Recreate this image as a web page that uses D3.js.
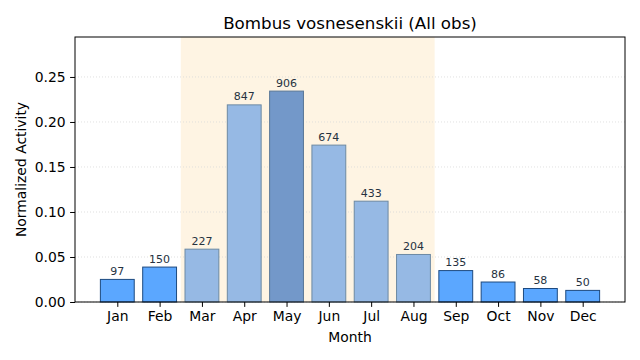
<!DOCTYPE html>
<html><head><meta charset="utf-8">
<script src="https://cdn.jsdelivr.net/npm/d3@7"></script>
<style>body{margin:0;background:#fff}svg{display:block;font-family:"DejaVu Sans",sans-serif}</style>
</head><body><svg id="c" width="640" height="360"></svg>
<script>
const months = ["Jan","Feb","Mar","Apr","May","Jun","Jul","Aug","Sep","Oct","Nov","Dec"];
const counts = [97,150,227,847,906,674,433,204,135,86,58,50];
const activity = [0.0251,0.0388,0.0587,0.2190,0.2343,0.1743,0.1120,0.0528,0.0349,0.0222,0.0150,0.0129];
const seasonMonths = ["Mar","Apr","May","Jun","Jul","Aug"];
const peakMonth = "May";
const yTicks = [0,0.05,0.10,0.15,0.20,0.25];

const svg = d3.select("#c");
const m = {l:75, r:625, t:37, b:302};
const x = d3.scaleLinear().domain([0,13]).range([m.l, m.r]);
const y = d3.scaleLinear().domain([0,0.2944]).range([m.b, m.t]);
const bw = x(0.8) - x(0);

// season span
const si = months.indexOf(seasonMonths[0]) + 1, ei = months.indexOf(seasonMonths[seasonMonths.length-1]) + 1;
svg.append("rect").attr("x", x(si-0.5)).attr("y", m.t).attr("width", x(ei+0.5)-x(si-0.5)).attr("height", m.b-m.t).attr("fill", "#fef4e3");

// grid
svg.append("g").selectAll("line").data(yTicks).join("line")
  .attr("x1", m.l).attr("x2", m.r).attr("y1", d=>y(d)).attr("y2", d=>y(d))
  .attr("stroke", "#d8d8d8").attr("stroke-width", 0.8).attr("stroke-dasharray", "1,2");

// bars
const g = svg.append("g");
months.forEach((mo,i)=>{
  const inS = seasonMonths.includes(mo), pk = mo===peakMonth;
  const fill = pk ? "#7398c9" : inS ? "#96b9e4" : "#5ba7ff";
  const stroke = pk ? "#5a7897" : inS ? "#6d8aa3" : "#1d4a80";
  g.append("rect").attr("x", x(i+1)-bw/2).attr("y", y(activity[i]))
    .attr("width", bw).attr("height", y(0)-y(activity[i]))
    .attr("fill", fill).attr("stroke", stroke).attr("stroke-width", 1);
  g.append("text").attr("x", x(i+1)).attr("y", y(activity[i])-4.5)
    .attr("text-anchor","middle").attr("font-size", 11).attr("fill", "#26323f").text(counts[i]);
});

// axes frame
svg.append("rect").attr("x", m.l).attr("y", m.t).attr("width", m.r-m.l).attr("height", m.b-m.t)
  .attr("fill","none").attr("stroke","#000").attr("stroke-width",1);

const yAx = svg.append("g").attr("transform", `translate(${m.l},0)`)
  .call(d3.axisLeft(y).tickValues(yTicks).tickFormat(d3.format(".2f")).tickSize(4.9).tickPadding(4.5));
const xAx = svg.append("g").attr("transform", `translate(0,${m.b})`)
  .call(d3.axisBottom(x).tickValues(d3.range(1,13)).tickFormat(d=>months[d-1]).tickSize(4.9).tickPadding(4));
[yAx,xAx].forEach(a=>{
  a.select(".domain").remove();
  a.selectAll("text").attr("font-size",13.9).attr("fill","#000").style("font-family","DejaVu Sans");
  a.selectAll("line").attr("stroke","#000");
});

svg.append("text").attr("x", (m.l+m.r)/2).attr("y", 29).attr("text-anchor","middle")
  .attr("font-size", 16.7).text("Bombus vosnesenskii (All obs)");
svg.append("text").attr("x", (m.l+m.r)/2).attr("y", 342).attr("text-anchor","middle")
  .attr("font-size", 13.9).text("Month");
svg.append("text").attr("transform", `translate(26,${(m.t+m.b)/2}) rotate(-90)`).attr("text-anchor","middle")
  .attr("font-size", 13.9).text("Normalized Activity");
</script></body></html>
